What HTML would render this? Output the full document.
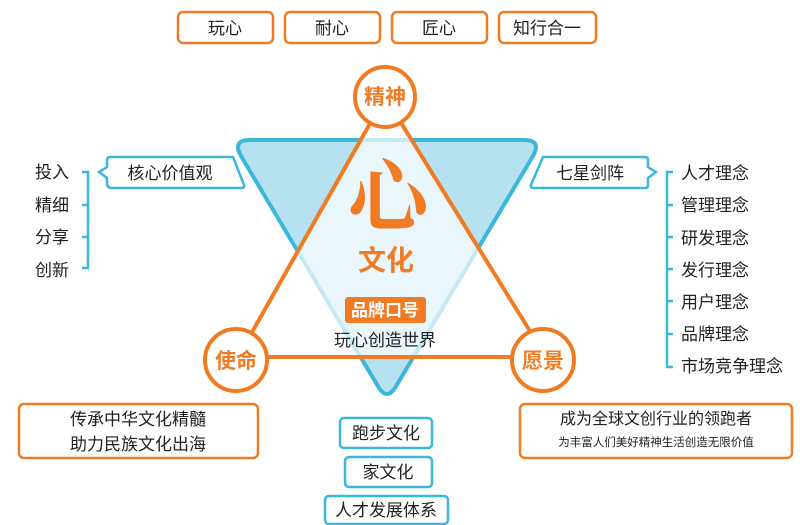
<!DOCTYPE html>
<html><head><meta charset="utf-8"><style>
body{margin:0;background:#fff;}
svg{display:block;font-family:"Liberation Sans","Noto Sans CJK SC",sans-serif;}
</style></head><body>
<svg width="800" height="525" viewBox="0 0 800 525" xmlns="http://www.w3.org/2000/svg">
<g fill="#fff" stroke="#f07b23" stroke-width="2.5">
<rect x="178" y="12" width="95" height="31" rx="5"/>
<rect x="285" y="12" width="95" height="31" rx="5"/>
<rect x="392" y="12" width="95" height="31" rx="5"/>
<rect x="499" y="12" width="97" height="31" rx="5"/>
</g>
<g font-size="17" fill="#222" text-anchor="middle">
<text x="225" y="34">玩心</text><text x="332" y="34">耐心</text><text x="439" y="34">匠心</text><text x="547" y="34">知行合一</text>
</g>
<path d="M250,140 L524,140 Q542,140 533,156 L395,388 Q387,400 379,388 L241,156 Q232,140 250,140 Z" fill="#b6e1f0" stroke="#3bb8d9" stroke-width="4"/>
<path d="M385,97 L238,357 L546,357 Z" fill="rgba(255,255,255,0.7)" stroke="#f07b23" stroke-width="4" stroke-linejoin="round"/>
<g fill="#fff" stroke="#f07b23" stroke-width="4">
<circle cx="385" cy="97" r="30"/><circle cx="236" cy="360" r="31"/><circle cx="543" cy="360" r="31"/>
</g>
<g font-size="21" font-weight="bold" fill="#f07b23" text-anchor="middle">
<text x="385" y="104">精神</text><text x="236" y="368">使命</text><text x="543" y="368">愿景</text>
</g>
<text x="388" y="225" font-size="80" font-weight="bold" fill="#f07b23" text-anchor="middle" font-family="'Noto Serif CJK SC','Liberation Serif',serif">心</text>
<text x="386" y="270" font-size="28" font-weight="bold" fill="#f07b23" text-anchor="middle">文化</text>
<rect x="345" y="297" width="81" height="26" rx="3" fill="#f07b23"/>
<text x="385" y="316" font-size="17" font-weight="bold" fill="#fff" text-anchor="middle">品牌口号</text>
<text x="385" y="346" font-size="17" fill="#222" text-anchor="middle">玩心创造世界</text>
<path d="M110,157 L233,157 L244,185 Q245,188 241,188 L112,188 Q107,188 107,183 L107,178 L99,172 L107,167 L107,160 Q107,157 110,157 Z" fill="#fff" stroke="#3bb8d9" stroke-width="2.5"/>
<text x="170" y="179" font-size="17" fill="#222" text-anchor="middle">核心价值观</text>
<path d="M82,172 H88 V268 H82 M82,205 H88 M82,237 H88" fill="none" stroke="#3bb8d9" stroke-width="2.5"/>
<g font-size="17" fill="#222"><text x="35" y="178">投入</text><text x="35" y="211">精细</text><text x="35" y="243">分享</text><text x="35" y="276">创新</text></g>
<path d="M543,157 L645,157 Q648,157 648,160 L648,167 L656,172 L648,178 L648,185 Q648,188 645,188 L534,188 Q530,188 531,185 Z" fill="#fff" stroke="#3bb8d9" stroke-width="2.5"/>
<text x="590" y="179" font-size="17" fill="#222" text-anchor="middle">七星剑阵</text>
<path d="M673,172 H667 V367 H673 M667,205 H673 M667,237 H673 M667,269 H673 M667,301 H673 M667,334 H673" fill="none" stroke="#3bb8d9" stroke-width="2.5"/>
<g font-size="17" fill="#222">
<text x="681" y="179">人才理念</text><text x="681" y="211">管理理念</text><text x="681" y="244">研发理念</text><text x="681" y="276">发行理念</text><text x="681" y="308">用户理念</text><text x="681" y="340">品牌理念</text><text x="681" y="372">市场竞争理念</text>
</g>
<rect x="19" y="404" width="239" height="54" rx="5" fill="#fff" stroke="#f07b23" stroke-width="2.5"/>
<text x="138" y="425" font-size="17" fill="#222" text-anchor="middle">传承中华文化精髓</text>
<text x="138" y="450" font-size="17" fill="#222" text-anchor="middle">助力民族文化出海</text>
<rect x="520" y="404" width="272" height="54" rx="5" fill="#fff" stroke="#f07b23" stroke-width="2.5"/>
<text x="656" y="424" font-size="16" fill="#222" text-anchor="middle">成为全球文创行业的领跑者</text>
<text x="656" y="446" font-size="11.5" fill="#222" text-anchor="middle">为丰富人们美好精神生活创造无限价值</text>
<g fill="#fff" stroke="#3bb8d9" stroke-width="2.5">
<rect x="340" y="418" width="92" height="30" rx="4"/>
<rect x="345" y="457" width="87" height="30" rx="4"/>
<rect x="325" y="496" width="123" height="28" rx="4"/>
</g>
<g font-size="17" fill="#222" text-anchor="middle">
<text x="386" y="439">跑步文化</text><text x="388" y="478">家文化</text><text x="386" y="516">人才发展体系</text>
</g>
</svg>
</body></html>
